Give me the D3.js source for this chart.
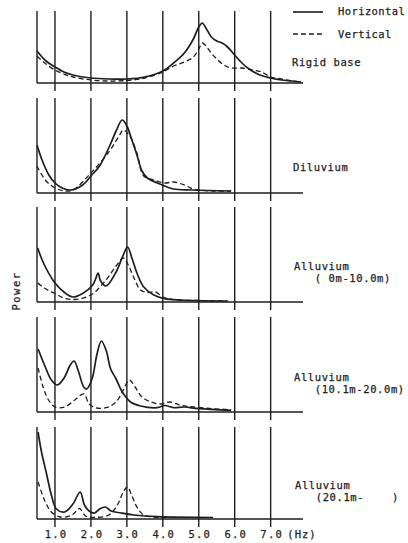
<!DOCTYPE html>
<html>
<head>
<meta charset="utf-8">
<script src="https://cdn.jsdelivr.net/npm/d3@7"></script>
<style>
  body { margin: 0; background: #fff; }
  text { font-family: "DejaVu Sans Mono", monospace; font-size: 10.5px; fill: #1e1e1e; stroke: #1e1e1e; stroke-width: 0.25; white-space: pre; }
</style>
</head>
<body>
<svg id="chart" width="408" height="543"></svg>
<script>
// frequency ticks (Hz) and their labels
const freqTicks = [1, 2, 3, 4, 5, 6, 7];
const tickLabels = ["1.0", "2.0", "3.0", "4.0", "5.0", "6.0", "7.0"];

// panel titles (site condition)
const panelNames = [
  ["Rigid base"],
  ["Diluvium"],
  ["Alluvium", "   ( 0m-10.0m)"],
  ["Alluvium", "   (10.1m-20.0m)"],
  ["Alluvium", "   (20.1m-    )"]
];

// power spectra [frequency Hz, relative power]
const rigidHorizontal = [[0.5,32],[0.75,22],[1.0,16],[1.25,11],[1.5,8],[2.0,5],[2.5,4],[3.0,4],[3.5,6],[4.0,12],[4.3,20],[4.6,30],[4.85,44],[5.0,56],[5.1,60],[5.2,55],[5.35,46],[5.5,42],[5.65,40],[5.8,36],[6.0,28],[6.2,20],[6.4,14],[6.7,8],[7.0,5],[7.3,3],[7.6,2],[7.85,1]];
const rigidVertical = [[0.5,27],[0.75,19],[1.0,13],[1.25,9],[1.5,6],[2.0,3],[2.5,2],[3.0,2.5],[3.5,5],[4.0,11],[4.3,17],[4.6,21],[4.85,26],[5.0,34],[5.1,40],[5.2,37],[5.35,30],[5.5,24],[5.7,18],[5.9,15],[6.2,15],[6.5,13],[6.75,11],[7.0,6],[7.3,4],[7.6,2],[7.85,1]];

const diluviumHorizontal = [[0.5,48],[0.64,33],[0.83,18],[1.0,10],[1.2,5],[1.43,3],[1.77,8],[2.0,17],[2.24,27],[2.52,47],[2.7,62],[2.87,73],[3.0,67],[3.14,53],[3.28,38],[3.42,22],[3.57,15],[3.85,10],[4.05,7],[4.3,4],[4.8,3],[5.9,2]];
const diluviumVertical = [[0.5,27],[0.73,13],[1.0,5],[1.3,2],[1.5,3],[2.0,20],[2.52,42],[2.8,58],[2.9,63],[3.08,57],[3.28,40],[3.47,17],[3.75,13],[4.05,10],[4.3,11],[4.6,8],[4.85,4],[5.4,2],[5.9,2]];

const alluvium1Horizontal = [[0.52,54],[0.68,39],[1.0,19],[1.3,8.5],[1.5,5],[1.77,8.5],[2.05,17],[2.13,23],[2.2,29],[2.27,21],[2.42,16],[2.7,30],[2.9,47],[3.02,55],[3.14,44],[3.28,29],[3.47,15],[3.75,7],[4.05,3.4],[4.5,2],[5.8,1]];
const alluvium1Vertical = [[0.52,19],[0.7,14],[1.0,8.5],[1.3,3.4],[1.6,2.7],[2.0,7],[2.42,22],[2.7,36],[2.9,44],[3.04,37],[3.2,24],[3.38,12],[3.57,9.5],[3.8,10],[4.0,5],[4.3,2.4],[5.0,1.5],[5.8,1]];

const alluvium2Horizontal = [[0.53,63],[0.72,46],[0.9,32],[1.07,27],[1.27,35],[1.41,46],[1.53,51],[1.65,41],[1.8,25],[1.88,23],[2.03,33],[2.17,58],[2.29,71],[2.42,62],[2.55,43],[2.7,33],[2.84,22],[2.93,17],[3.1,10],[3.38,6],[3.85,4.3],[4.05,6.5],[4.3,4.3],[4.6,5],[5.0,3.3],[5.9,1.7]];
const alluvium2Vertical = [[0.53,44],[0.67,25],[0.82,12],[1.0,5],[1.27,5],[1.55,12],[1.8,18],[1.95,8],[2.12,4.3],[2.42,4.3],[2.7,10],[2.9,22],[3.07,32],[3.23,25],[3.42,15],[3.67,10],[3.95,8],[4.2,10],[4.5,6.7],[4.85,5],[5.4,3.3],[5.9,2.3]];

const alluvium3Horizontal = [[0.53,87],[0.62,68],[0.76,46],[0.9,24],[1.04,10],[1.27,7],[1.5,15],[1.7,27],[1.82,14],[1.95,8],[2.1,6],[2.24,10],[2.4,12],[2.56,8],[2.84,6],[3.2,4],[3.85,2.3],[5.4,1.5]];
const alluvium3Vertical = [[0.53,37],[0.72,18],[0.9,7],[1.15,2],[1.48,4],[1.68,10.5],[1.85,3],[2.1,1.7],[2.5,4],[2.75,15],[2.9,27],[3.02,32],[3.14,23],[3.28,12],[3.47,4],[3.75,2],[4.2,1.5]];

const horizontalSeries = [rigidHorizontal, diluviumHorizontal, alluvium1Horizontal, alluvium2Horizontal, alluvium3Horizontal];
const verticalSeries = [rigidVertical, diluviumVertical, alluvium1Vertical, alluvium2Vertical, alluvium3Vertical];

// layout
const panelTops = [11, 98, 207, 317, 427];
const panelBases = [83, 193, 302, 412, 519];
const ink = "#1e1e1e";

const svg = d3.select("#chart");

const x = d3.scaleLinear().domain([0.5, 7.9]).range([37, 303]);

panelNames.forEach((name, i) => {
  const base = panelBases[i], top = panelTops[i];
  const y = d3.scaleLinear().domain([0, 100]).range([base, base - 100]);
  const g = svg.append("g");

  // grid lines at each Hz, running a little below the baseline
  g.selectAll("line.grid")
    .data(freqTicks)
    .enter().append("line")
    .attr("x1", d => x(d)).attr("x2", d => x(d))
    .attr("y1", top).attr("y2", base + 8)
    .attr("stroke", ink).attr("stroke-width", 1.4);

  // left edge
  g.append("line")
    .attr("x1", x(0.5)).attr("x2", x(0.5))
    .attr("y1", top).attr("y2", base)
    .attr("stroke", ink).attr("stroke-width", 1.4);

  // baseline
  g.append("line")
    .attr("x1", x(0.5)).attr("x2", x(7.9))
    .attr("y1", base).attr("y2", base)
    .attr("stroke", ink).attr("stroke-width", 1.6);

  const line = d3.line()
    .x(d => x(d[0]))
    .y(d => y(d[1]))
    .curve(d3.curveCatmullRom.alpha(0.5));

  g.append("path")
    .attr("d", line(verticalSeries[i]))
    .attr("fill", "none").attr("stroke", ink)
    .attr("stroke-width", 1.3).attr("stroke-dasharray", "5,3");

  g.append("path")
    .attr("d", line(horizontalSeries[i]))
    .attr("fill", "none").attr("stroke", ink)
    .attr("stroke-width", 1.7);
});

// panel titles
const titlePos = [[292, 66], [293, 171], [294, 270], [294, 381], [295, 489]];
panelNames.forEach((name, i) => {
  const t = svg.append("text")
    .attr("x", titlePos[i][0]).attr("y", titlePos[i][1])
    .attr("letter-spacing", 0.6);
  name.forEach((s, j) => {
    t.append("tspan")
      .attr("x", titlePos[i][0])
      .attr("dy", j === 0 ? 0 : 12)
      .text(s);
  });
});

// legend
const legend = svg.append("g");
legend.append("line").attr("x1", 293).attr("x2", 323).attr("y1", 12).attr("y2", 12)
  .attr("stroke", ink).attr("stroke-width", 1.6);
legend.append("text").attr("x", 338).attr("y", 15).attr("letter-spacing", 0.4).text("Horizontal");
legend.append("line").attr("x1", 293).attr("x2", 323).attr("y1", 34).attr("y2", 34)
  .attr("stroke", ink).attr("stroke-width", 1.3).attr("stroke-dasharray", "5,3");
legend.append("text").attr("x", 338).attr("y", 38).attr("letter-spacing", 0.4).text("Vertical");

// frequency axis labels under the last panel
svg.selectAll("text.tick")
  .data(freqTicks)
  .enter().append("text")
  .attr("class", "tick")
  .attr("x", d => x(d) + 1).attr("y", 538)
  .attr("text-anchor", "middle")
  .attr("letter-spacing", 1.2)
  .text((d, i) => tickLabels[i]);

svg.append("text")
  .attr("x", 302).attr("y", 538)
  .attr("text-anchor", "middle")
  .attr("letter-spacing", 1)
  .text("(Hz)");

// y label
svg.append("text")
  .attr("transform", "translate(20,291) rotate(-90)")
  .attr("text-anchor", "middle")
  .attr("letter-spacing", 1.5)
  .text("Power");
</script>
</body>
</html>
